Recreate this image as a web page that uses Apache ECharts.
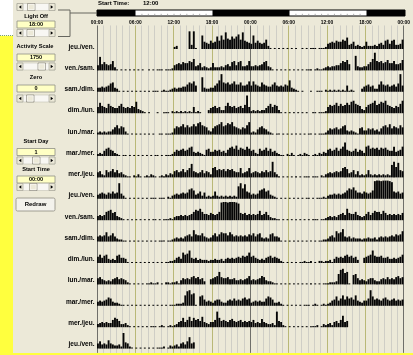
<!DOCTYPE html>
<html>
<head>
<meta charset="utf-8">
<script src="https://cdn.jsdelivr.net/npm/echarts@6/dist/echarts.min.js"></script>
<style>
  html, body { margin: 0; padding: 0; background: #ECE9D8; }
  #actogram { width: 413px; height: 355px; }
</style>
</head>
<body>
<div id="actogram"></div>
<script>
// ---- settings shown in the control panel ----
const startTime = '12:00';      // first recorded bin of the first day
const lightOn = '06:00';
const lightOff = '18:00';
const activityScale = 1750;     // counts that fill a whole row
const zeroLevel = 0;
const startDay = 1;
const plotStart = '00:00';

// ---- double-plotted rows (left day / right day) ----
const rowLabels = ['jeu./ven.', 'ven./sam.', 'sam./dim.', 'dim./lun.', 'lun./mar.',
  'mar./mer.', 'mer./jeu.', 'jeu./ven.', 'ven./sam.', 'sam./dim.', 'dim./lun.',
  'lun./mar.', 'mar./mer.', 'mer./jeu.', 'jeu./ven.'];

// tick labels every 6 h over the 48 h span
const tickLabels = ['00:00', '06:00', '12:00', '18:00', '00:00', '06:00', '12:00', '18:00', '00:00'];

// ---- activity, counts per 20-minute bin (in hundreds) ----
// day00 starts at startTime, the other days at 00:00
const day00 = [2,3,0, 0,0,0, 0,17,4, 17,1,0, 0,13,7, 6,5,8,
  6,7,12, 8,13,9, 16,10,9, 12,10,12, 14,9,16, 8,7,6];
const day01 = [5,13,6, 8,6,5, 6,9,3, 1,0,1, 0,1,0, 1,0,1,
  0,1,0, 1,0,0, 1,0,1, 0,1,1, 1,0,1, 1,1,2,
  5,6,7, 6,8,7, 7,9,8, 11,4,5, 7,3,4, 3,2,3,
  7,3,3, 3,4,3, 5,6,4, 8,9,5, 8,9,4, 4,5,9];
const day02 = [4,4,5, 4,5,6, 8,9,4, 3,1,0, 1,0,1, 0,1,0,
  1,0,1, 0,1,0, 1,0,1, 1,1,0, 1,2,1, 1,2,3,
  4,3,4, 4,5,5, 7,9,8, 10,6,0, 0,14,4, 3,3,4,
  4,6,8, 11,17,9, 8,9,7, 8,10,7, 7,9,6, 6,7,10];
const day03 = [6,10,7, 6,5,9, 7,6,5, 5,7,9, 6,5,6, 5,7,6,
  11,4,3, 2,1,0, 1,0,0, 0,1,0, 0,1,1, 1,0,2,
  1,2,1, 2,1,2, 1,2,1, 6,1,2, 1,0,0, 0,3,5,
  6,7,5, 6,3,3, 7,10,7, 6,7,5, 6,7,5, 8,17,6];
const day04 = [2,3,2, 3,2,3, 3,5,7, 9,6,8, 7,3,1, 0,1,0,
  1,0,1, 0,1,0, 1,0,1, 0,0,1, 1,0,1, 1,1,2,
  6,8,7, 8,10,7, 9,7,8, 10,8,11, 12,9,8, 7,4,3,
  6,8,9, 10,12,8, 9,11,10, 12,8,7, 6,5,7, 6,9,12];
const day05 = [2,3,2, 5,7,8, 6,5,3, 2,1,0, 1,1,0, 1,0,1,
  0,1,0, 1,0,1, 0,1,0, 1,1,0, 1,0,1, 1,1,2,
  4,6,5, 6,7,5, 6,8,9, 4,3,4, 3,2,1, 6,7,4,
  4,6,5, 6,4,5, 3,6,8, 9,7,10, 6,8,7, 6,9,7];
const day06 = [5,6,3, 2,7,5, 6,8,5, 7,4,5, 3,2,1, 1,0,2,
  1,3,1, 0,1,2, 1,3,2, 1,0,1, 2,1,3, 2,4,3,
  6,7,5, 6,8,5, 7,9,13, 6,5,4, 5,7,4, 6,5,3,
  9,10,7, 8,7,8, 6,8,7, 8,6,5, 5,9,4, 5,6,9];
const day07 = [4,5,6, 5,4,6, 5,7,5, 6,15,5, 3,1,0, 1,0,1,
  0,1,0, 1,0,1, 0,1,1, 1,0,1, 1,1,0, 2,1,3,
  4,5,4, 5,6,5, 6,9,10, 8,4,5, 7,3,6, 2,3,2,
  3,7,3, 2,3,2, 3,2,3, 2,3,2, 12,15,10, 14,7,6];
const day08 = [4,5,4, 5,8,9, 10,7,8, 4,3,2, 1,0,1, 0,1,0,
  1,0,1, 0,1,0, 1,0,1, 1,0,1, 0,1,1, 1,2,1,
  3,4,4, 5,4,5, 4,5,6, 8,10,9, 11,8,6, 6,5,7,
  6,5,6, 8,17,18, 18,17,18, 18,18,17, 16,7,6, 7,5,6];
const day09 = [5,6,5, 6,9,5, 6,8,5, 3,2,2, 1,1,0, 1,0,1,
  0,1,0, 1,0,1, 0,1,0, 1,0,1, 1,1,0, 1,1,2,
  3,4,3, 4,3,5, 6,7,5, 11,7,6, 6,8,5, 4,3,4,
  6,8,5, 7,9,8, 8,6,9, 7,5,6, 5,6,5, 6,5,7];
const day10 = [6,8,5, 7,8,4, 3,4,3, 7,8,5, 5,4,1, 0,1,0,
  1,0,1, 0,1,0, 1,0,1, 0,1,0, 1,0,1, 1,2,2,
  3,5,6, 4,10,8, 9,12,5, 4,5,3, 4,3,3, 3,2,3,
  3,4,3, 3,4,2, 4,5,4, 5,4,5, 6,5,7, 6,7,10];
const day11 = [6,7,5, 4,3,4, 3,5,6, 7,5,6, 5,4,2, 1,0,1,
  0,1,0, 1,0,1, 1,2,1, 1,2,0, 1,0,2, 2,1,2,
  2,3,1, 4,6,5, 6,5,7, 8,6,7, 5,6,3, 0,0,5,
  6,7,8, 12,7,6, 6,7,5, 5,6,4, 4,5,4, 5,6,8];
const day12 = [4,5,4, 5,6,8, 7,4,3, 3,2,1, 1,0,1, 0,1,0,
  1,0,1, 0,1,0, 1,0,1, 0,1,0, 1,0,1, 0,1,1,
  1,2,2, 2,3,10, 14,15,11, 12,1,0, 9,10,6, 4,5,4,
  3,5,6, 6,4,3, 3,5,6, 5,7,5, 6,5,7, 8,6,7];
const day13 = [3,4,5, 4,5,4, 4,7,9, 8,6,3, 3,4,2, 1,0,1,
  0,1,0, 1,0,1, 0,1,1, 1,0,1, 2,1,0, 1,2,1,
  2,3,5, 6,9,5, 7,10,6, 9,7,8, 6,10,5, 4,3,5,
  5,7,15, 9,6,7, 6,5,7, 8,6,5, 6,7,5, 6,5,6];
const day14 = [5,7,4, 5,4,8, 5,4,3, 3,4,2, 15,6,5, 2,1,0,
  1,0,1, 0,1,0, 1,0,1, 0,1,1, 1,2,0, 1,3,2,
  3,4,2, 5,6,4, 7,11,5, 6];

const days = [day00, day01, day02, day03, day04, day05, day06, day07,
  day08, day09, day10, day11, day12, day13, day14];

const BIN_H = 1 / 3;              // 20 minutes, in hours
const hourOf = s => parseInt(s.split(':')[0], 10) + parseInt(s.split(':')[1], 10) / 60;

// Each day is drawn on the left of its own row and on the right of the row above.
const bins = [];
days.forEach((arr, d) => {
  const offset = d === 0 ? hourOf(startTime) : 0;
  arr.forEach((v, i) => {
    const h = offset + i * BIN_H;
    bins.push([h, d, v * 100]);
    if (d > 0) bins.push([24 + h, d - 1, v * 100]);
  });
});

// light phases across the 48 h span: [start, end]; the rest of the bar is dark
const lightSegments = [0, 24].map(base => [base + hourOf(lightOn), base + hourOf(lightOff)]);

// hourly grid: midnight dark, 06/12/18 olive, other hours light grey
const hourLineColors = [];
for (let h = 0; h < 24; h++) {
  hourLineColors.push(h === 0 ? '#6f6f6a' : (h % 6 === 0 ? '#b9b877' : '#cfcec6'));
}

const FONT = '"Liberation Sans", Arial, sans-serif';

// ---- control panel widgets ----
function label(x, y, text, size, align) {
  return { type: 'text', x: x, y: y, z: 20,
    style: { text: text, fill: '#000', font: 'bold ' + (size || 5.7) + 'px ' + FONT,
      align: align || 'center', verticalAlign: 'middle' } };
}
function textBox(y, text) {
  return [
    { type: 'rect', z: 20, shape: { x: 17, y: y, width: 38, height: 7 },
      style: { fill: '#FFFFC4', stroke: '#8f8f86', lineWidth: 0.8 } },
    label(36, y + 3.7, text, 5.5)
  ];
}
function slider(y, thumbX) {
  const h = 7;
  return [
    { type: 'rect', z: 20, shape: { x: 17, y: y, width: 38, height: h },
      style: { fill: '#F8F7F3', stroke: '#c4c2b6', lineWidth: 0.6 } },
    { type: 'rect', z: 21, shape: { x: 17, y: y, width: 6, height: h },
      style: { fill: '#ECE9D8', stroke: '#9c9a8e', lineWidth: 0.6 } },
    { type: 'rect', z: 21, shape: { x: 49, y: y, width: 6, height: h },
      style: { fill: '#ECE9D8', stroke: '#9c9a8e', lineWidth: 0.6 } },
    { type: 'polygon', z: 22, shape: { points: [[21.3, y + 1.8], [21.3, y + 5.2], [18.9, y + 3.5]] },
      style: { fill: '#000' } },
    { type: 'polygon', z: 22, shape: { points: [[50.7, y + 1.8], [50.7, y + 5.2], [53.1, y + 3.5]] },
      style: { fill: '#000' } },
    { type: 'rect', z: 21, shape: { x: thumbX, y: y, width: 7.5, height: h },
      style: { fill: '#ECE9D8', stroke: '#86847a', lineWidth: 0.7 } },
    { type: 'rect', z: 22, shape: { x: thumbX + 0.8, y: y + 0.8, width: 5.9, height: h - 1.6 },
      style: { fill: 'none', stroke: '#ffffff', lineWidth: 0.6 } }
  ];
}

const graphics = [].concat(
  // white corner and yellow side strip of the window
  [{ type: 'rect', z: 1, shape: { x: 0, y: 0, width: 13, height: 35.5 }, style: { fill: '#ffffff' } },
   { type: 'line', z: 2, shape: { x1: 0, y1: 35.5, x2: 14, y2: 35.5 },
     style: { stroke: '#7aa56f', lineWidth: 1, lineDash: [1, 1] } },
   { type: 'rect', z: 1, shape: { x: 0, y: 36, width: 13, height: 319 }, style: { fill: '#FFFF3E' } },
   { type: 'rect', z: 100, shape: { x: 0, y: 353, width: 413, height: 2 }, style: { fill: '#FFFF3E' } }],
  slider(3.5, 27.5),
  [label(36, 16, 'Light Off')],
  textBox(21, lightOff),
  slider(29.5, 27),
  [label(35, 46.5, 'Activity Scale')],
  textBox(54, String(activityScale)),
  slider(63, 38),
  [label(36, 77.5, 'Zero')],
  textBox(85, String(zeroLevel)),
  slider(95, 26.5),
  [label(36, 141, 'Start Day')],
  textBox(148.5, String(startDay)),
  slider(157, 32.5),
  [label(36, 169.5, 'Start Time')],
  textBox(176, plotStart),
  slider(183.5, 29.5),
  [{ type: 'rect', z: 20, shape: { x: 16, y: 198, width: 39, height: 13, r: 1.5 },
     style: { fill: '#F3F2EC', stroke: '#8e8c80', lineWidth: 0.8 } },
   label(35.5, 204.7, 'Redraw', 6)],
  // bracket linking the light setting to the light bar
  [{ type: 'polyline', z: 20, shape: { points: [[58, 10], [70, 10], [70, 36.5], [58, 36.5]] },
     style: { stroke: '#66665f', lineWidth: 1, fill: 'none' } },
   { type: 'line', z: 20, shape: { x1: 70, y1: 13, x2: 97, y2: 13 },
     style: { stroke: '#66665f', lineWidth: 1 } }],
  [label(98, 3.3, 'Start Time:', 6, 'left'), label(143, 3.3, startTime, 6, 'left')]
);

const chart = echarts.init(document.getElementById('actogram'), null, { renderer: 'canvas' });
chart.setOption({
  animation: false,
  backgroundColor: '#ECE9D8',
  grid: [
    { left: 97, width: 308, top: 25.46, height: 327.42 },   // actogram
    { left: 97, width: 308, top: 36.3, height: 321 },       // row labels
    { left: 97, width: 308, top: 10, height: 6, show: true,  // light bar, dark phases
      backgroundColor: '#000000', borderColor: '#000000', borderWidth: 1 }
  ],
  xAxis: [
    { gridIndex: 0, type: 'value', min: 0, max: 48, interval: 1, position: 'top',
      axisLine: { show: false }, axisTick: { show: false },
      axisLabel: { margin: 0.5, fontSize: 4.9, fontWeight: 'bold', color: '#000', fontFamily: FONT,
        showMinLabel: true, showMaxLabel: true,
        formatter: v => (v % 6 === 0 ? tickLabels[v / 6] : '') },
      splitLine: { show: true, lineStyle: { color: hourLineColors, width: 1 } } },
    { gridIndex: 1, type: 'value', min: 0, max: 48, show: false },
    { gridIndex: 2, type: 'value', min: 0, max: 48, show: false }
  ],
  yAxis: [
    { gridIndex: 0, type: 'value', min: -0.1, max: 15.2, inverse: true, show: false },
    { gridIndex: 1, type: 'category', data: rowLabels, inverse: true,
      axisLine: { show: false }, axisTick: { show: false }, splitLine: { show: false },
      axisLabel: { margin: 2.5, fontSize: 6.5, fontWeight: 'bold', color: '#000', fontFamily: FONT } },
    { gridIndex: 2, type: 'value', min: 0, max: 1, show: false }
  ],
  series: [
    {
      type: 'custom', xAxisIndex: 0, yAxisIndex: 0, data: bins,
      encode: { x: 0, y: 1 },
      renderItem: function (params, api) {
        const t = api.value(0), row = api.value(1), v = api.value(2);
        if (v <= zeroLevel) return null;
        const a = api.coord([t, row + 1]);
        const b = api.coord([t + BIN_H, row + 1]);
        const full = Math.abs(api.size([0, 0.85])[1]);
        const h = Math.min(v - zeroLevel, activityScale) / activityScale * full;
        return { type: 'rect',
          shape: { x: a[0], y: a[1] - h, width: Math.max(b[0] - a[0] - 0.25, 0.8), height: h },
          style: { fill: '#050505' } };
      }
    },
    {
      // light phases: white with hourly ticks along the lower edge
      type: 'custom', xAxisIndex: 2, yAxisIndex: 2, data: lightSegments,
      encode: { x: [0, 1] },
      renderItem: function (params, api) {
        const s = api.value(0), e = api.value(1);
        const a = api.coord([s, 1]);
        const b = api.coord([e, 0]);
        const children = [{ type: 'rect',
          shape: { x: a[0], y: a[1] + 0.6, width: b[0] - a[0], height: b[1] - a[1] - 1.2 },
          style: { fill: '#ffffff' } }];
        for (let hr = Math.ceil(s) + 1; hr < e; hr++) {
          const p = api.coord([hr, 0]);
          children.push({ type: 'line',
            shape: { x1: p[0], y1: p[1] - 0.6, x2: p[0], y2: p[1] - 2.2 },
            style: { stroke: '#9a9a9a', lineWidth: 0.8 } });
        }
        return { type: 'group', children: children };
      }
    }
  ],
  graphic: graphics
});
</script>
</body>
</html>
